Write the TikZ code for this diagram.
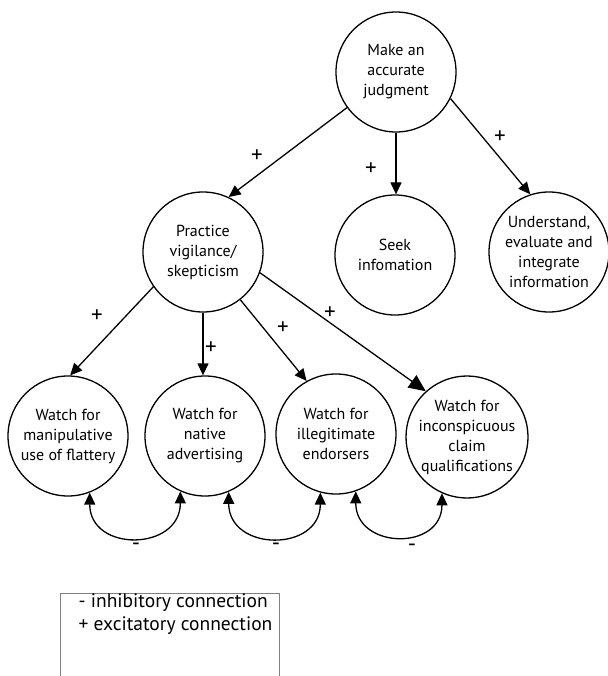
\documentclass[tikz,border=0pt]{standalone}
\usepackage{fontspec}
\setmainfont{PT Sans}
\usetikzlibrary{arrows.meta}

\begin{document}
\begin{tikzpicture}[x=1pt, y=-1pt,
    every node/.style={draw, circle, line width=1.3pt, minimum size=120pt, inner sep=0pt, align=center, font=\fontsize{16}{20}\selectfont},
    sign/.style={draw=none, minimum size=0pt, font=\fontsize{23}{23}\selectfont},
    excite/.style={line width=1.3pt, -{Triangle[length=12pt, width=11pt]}},
    inhib/.style={line width=1.3pt, {Triangle[length=12pt, width=11pt]}-{Triangle[length=12pt, width=11pt]}}]
  \useasboundingbox (0,0) rectangle (607,676);

  % Top goal
  \node (J) at (396, 72)  {Make an\\accurate\\judgment};

  % Second level
  \node (P) at (203, 252) {Practice\\vigilance/\\skepticism};
  \node (S) at (395, 255) {Seek\\infomation};
  \node (U) at (549, 252) {Understand,\\evaluate and\\integrate\\information};

  \draw[excite] (J.-144) -- (P.65);
  \draw[excite] (J.south) -- (J.south |- S.north);
  \draw[excite] (J.-26) -- (U.108);
  \node[sign] at (257, 156) {+};
  \node[sign] at (371, 169) {+};
  \node[sign] at (500, 137) {+};

  % Watch for ...
  \node (W1) at (68, 436)  {Watch for\\manipulative\\use of flattery};
  \node (W2) at (205, 436) {Watch for\\native\\advertising};
  \node (W3) at (336, 434) {Watch for\\illegitimate\\endorsers};
  \node (W4) at (467, 437) {Watch for\\inconspicuous\\claim\\qualifications};

  \draw[excite] (P.-145) -- (W1.88);
  \draw[excite] (P.south) -- (P.south |- W2.north);
  \draw[excite] (P.-52) -- (W3.119);
  \draw[line width=1.3pt, -{Triangle[length=17pt, width=15pt]}] (P.-20) -- (W4.132);
  \node[sign] at (97, 316)  {+};
  \node[sign] at (211, 348) {+};
  \node[sign] at (283, 328) {+};
  \node[sign] at (330, 313) {+};

  % inhibitory links
  \draw[inhib] (W1.-69) .. controls +(0,60) and +(0,60) .. (W2.-114);
  \draw[inhib] (W2.-67) .. controls +(0,60) and +(0,60) .. (W3.-105);
  \draw[inhib] (W3.-71) .. controls +(0,58) and +(0,58) .. (W4.-114);
  \node[sign] at (136, 547) {-};
  \node[sign] at (276, 547) {-};
  \node[sign] at (412, 548) {-};

  % Legend
  \draw[gray, line width=0.9pt] (60, 680) -- (60, 593) -- (279, 593) -- (279, 680);
  \node[draw=none, rectangle, minimum size=0pt, align=left, anchor=base west, font=\fontsize{19.5}{23}\selectfont] (L) at (78, 630) {- inhibitory connection\\+ excitatory connection};
\end{tikzpicture}
\end{document}
